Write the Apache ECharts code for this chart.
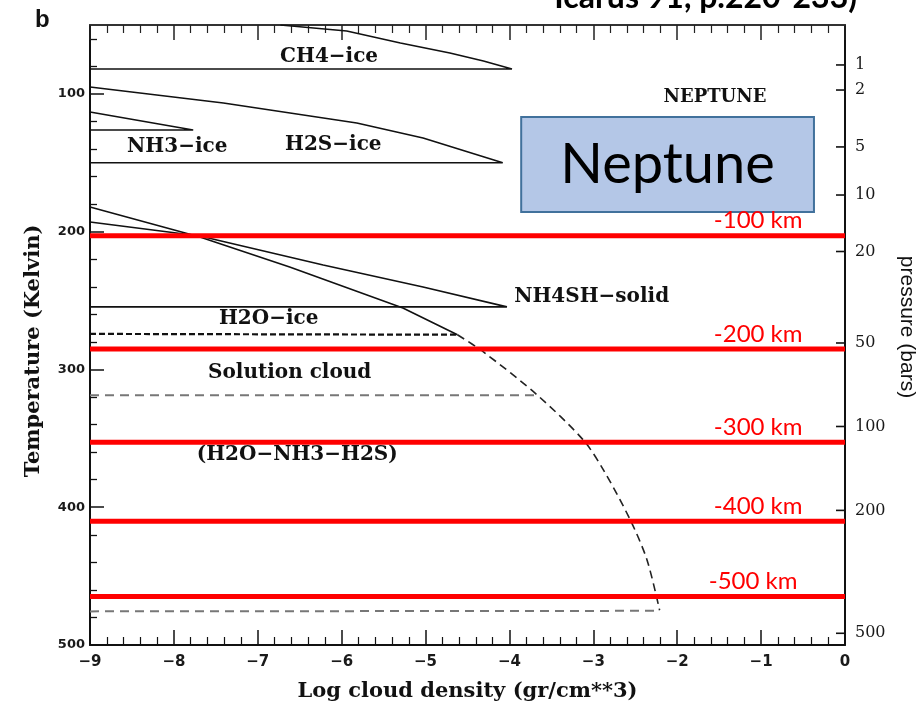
<!DOCTYPE html>
<html>
<head>
<meta charset="utf-8">
<script src="https://cdn.jsdelivr.net/npm/echarts@6/dist/echarts.min.js"></script>
<style>
html,body{margin:0;padding:0;background:#fff;}
#chart{width:918px;height:711px;}
</style>
</head>
<body>
<div id="chart"></div>
<script>
// ---- data (x = log cloud density, y = temperature K) ----
const tempTicks = [100, 200, 300, 400, 500];
const tempMinorTicks = [60, 80, 120, 140, 160, 180, 220, 240, 260, 280, 320, 340, 360, 380, 420, 440, 460, 480];
const pressureLabels = ['1', '2', '5', '10', '20', '50', '100', '200', '500'];
const pressureTempK = [79, 97.2, 138.5, 173.4, 214.4, 280.8, 341.4, 402.3, 491.5];

const ch4Ice = [[-9, 81.9], [-3.97, 81.9], [-4.31, 76.1], [-4.71, 70.3], [-5.30, 63.1], [-5.94, 54.4], [-6.73, 50]];
const h2sIce = [[-9, 150], [-4.08, 150], [-5.03, 132.0], [-5.82, 121.1], [-7.41, 106.6], [-9, 95]];
const nh3Ice = [[-9, 126.2], [-7.77, 126.2], [-9, 113.1]];
const nh4shSolid = [[-9, 254.6], [-4.03, 254.6], [-5.03, 240.1], [-6.22, 224.2], [-7.69, 203.1], [-9, 193.0]];
const h2oIceTop = [[-9, 182.1], [-7.69, 203.9], [-6.62, 225.6], [-5.27, 255.4], [-4.62, 274.8]];
const h2oIceBottom = [[-9, 274.2], [-4.62, 274.8]];
const solutionEdge = [[-4.62, 274.8], [-4.31, 287.3], [-3.67, 318.5], [-3.12, 351.2], [-2.88, 372.9], [-2.56, 409.2], [-2.36, 438.3], [-2.21, 474.8]];
const solutionTop = [[-9, 318.8], [-3.67, 318.8]];
const solutionBottom = [[-9, 475.6], [-2.21, 475.2]];

const cloudLabels = ['CH4−ice', 'NH3−ice', 'H2S−ice', 'NH4SH−solid', 'H2O−ice', 'Solution cloud', '(H2O−NH3−H2S)'];
const cloudLabelX = [-6.15, -7.96, -6.10, -3.02, -6.87, -6.62, -6.53];
const cloudLabelT = [73.2, 138.5, 137.1, 247.4, 263.4, 302.5, 362.0];

const depthLabels = ['-100 km', '-200 km', '-300 km', '-400 km', '-500 km'];
const depthTempK = [202.9, 285.1, 352.9, 410.2, 464.8];
const depthLabelX = [-0.50, -0.50, -0.50, -0.50, -0.56];

const planetName = 'NEPTUNE';
const planetNamePos = [-1.55, 102.2];
const boxText = 'Neptune';
const boxCorners = [[-3.86, 116.8], [-0.37, 185.7]];

// ---- chart ----
const chart = echarts.init(document.getElementById('chart'), null, {renderer: 'canvas'});

const ink = '#111';
function curve(data, opts) {
  return Object.assign({
    type: 'line', data: data, xAxisIndex: 0, yAxisIndex: 0,
    symbol: 'none', silent: true, animation: false,
    lineStyle: {color: ink, width: 1.6}, z: 3
  }, opts || {});
}

const series = [
  curve(ch4Ice),
  curve(h2sIce),
  curve(nh3Ice),
  curve(nh4shSolid),
  curve(h2oIceTop),
  curve(h2oIceBottom, {lineStyle: {color: '#111', width: 2.2, type: [6, 3]}}),
  curve(solutionEdge, {smooth: 0.3, lineStyle: {color: '#222', width: 1.6, type: [8, 5]}}),
  curve(solutionTop, {lineStyle: {color: '#777', width: 2, type: [9, 6]}}),
  curve(solutionBottom, {lineStyle: {color: '#777', width: 2, type: [9, 6]}})
];

// red depth lines
depthTempK.forEach(function (t) {
  series.push({
    type: 'line', data: [[-9, t], [0, t]], symbol: 'none', silent: true, animation: false,
    lineStyle: {color: '#FF0000', width: 5}, z: 5
  });
});

// red depth labels
series.push({
  type: 'scatter', silent: true, animation: false, z: 6,
  symbolSize: 1, itemStyle: {color: 'rgba(0,0,0,0)', opacity: 1},
  data: depthLabels.map(function (n, i) { return {name: n, value: [depthLabelX[i], depthTempK[i]]}; }),
  label: {
    show: true, position: 'left', distance: 0, offset: [0, -15], formatter: '{b}', opacity: 1,
    color: '#FF0000', fontFamily: 'Lato', fontSize: 24
  }
});

// cloud labels
series.push({
  type: 'scatter', silent: true, animation: false, z: 4,
  symbolSize: 1, itemStyle: {color: 'rgba(0,0,0,0)', opacity: 1},
  data: cloudLabels.map(function (n, i) { return {name: n, value: [cloudLabelX[i], cloudLabelT[i]]}; }),
  label: {
    show: true, position: 'inside', formatter: '{b}', opacity: 1,
    color: '#111', fontFamily: 'DejaVu Serif', fontWeight: 'bold', fontSize: 20
  }
});

// NEPTUNE label + box
series.push({
  type: 'scatter', silent: true, animation: false, z: 4,
  symbolSize: 1, itemStyle: {color: 'rgba(0,0,0,0)', opacity: 1},
  data: [{name: planetName, value: planetNamePos}],
  label: {
    show: true, position: 'inside', formatter: '{b}', opacity: 1,
    color: '#111', fontFamily: 'DejaVu Serif', fontWeight: 'bold', fontSize: 18
  },
  markArea: {
    silent: true,
    itemStyle: {color: '#B4C7E7', borderColor: '#41719C', borderWidth: 2, opacity: 1},
    label: {show: true, position: 'inside', color: '#000', fontFamily: 'Lato', fontSize: 56},
    data: [[{name: boxText, coord: boxCorners[0]}, {coord: boxCorners[1]}]]
  }
});

// pressure-axis tick marks (inside, pointing left from the right axis)
series.push({
  type: 'scatter', silent: true, animation: false, z: 7, clip: false,
  symbol: 'rect', symbolSize: [9, 1.6], symbolOffset: [-4.5, 0],
  itemStyle: {color: '#111', opacity: 1},
  data: pressureTempK.map(function (t) { return [0, t]; })
});

const tickLabelStyle = {color: '#1a1a1a', fontFamily: 'DejaVu Sans', fontWeight: 'bold', fontSize: 13};
const nameFont = {color: '#111', fontFamily: 'DejaVu Serif', fontWeight: 'bold', fontSize: 21};

function nearestPressure(v) {
  let best = 0;
  for (let i = 1; i < pressureTempK.length; i++) {
    if (Math.abs(pressureTempK[i] - v) < Math.abs(pressureTempK[best] - v)) best = i;
  }
  return pressureLabels[best];
}

const gridBox = {left: 90, right: 73, top: 25, bottom: 66, containLabel: false, outerBoundsMode: 'none'};

const option = {
  animation: false,
  backgroundColor: '#fff',
  grid: [Object.assign({}, gridBox), Object.assign({}, gridBox)],
  graphic: [
    {type: 'text', silent: true, style: {x: 35, y: 20, text: 'b', fill: '#111',
      font: 'bold 24px "Liberation Sans"', textVerticalAlign: 'middle', verticalAlign: 'middle'}},
    {type: 'text', silent: true, style: {x: 857, y: -2, text: 'Icarus 91, p.220-233)', fill: '#000',
      font: 'bold 32px Lato', textAlign: 'right', align: 'right', textVerticalAlign: 'middle', verticalAlign: 'middle'}}
  ],
  xAxis: [
    {
      type: 'value', gridIndex: 0, min: -9, max: 0, interval: 1, position: 'bottom',
      name: 'Log cloud density (gr/cm**3)', nameLocation: 'middle', nameGap: 36,
      nameTextStyle: nameFont,
      axisLine: {show: true, onZero: false, lineStyle: {color: '#111', width: 2}},
      axisTick: {show: true, inside: true, length: 15, lineStyle: {color: '#111', width: 1.5}},
      minorTick: {show: true, splitNumber: 5, length: 8, lineStyle: {color: '#111', width: 1.2}},
      axisLabel: Object.assign({margin: 10, formatter: function (v) { return String(v).replace('-', '−'); }},
        tickLabelStyle, {fontSize: 15}),
      splitLine: {show: false}, minorSplitLine: {show: false}
    },
    {
      type: 'value', gridIndex: 0, min: -9, max: 0, interval: 1, position: 'top',
      axisLine: {show: true, onZero: false, lineStyle: {color: '#333', width: 2}},
      axisTick: {show: true, inside: true, length: 15, lineStyle: {color: '#222', width: 1.5}},
      minorTick: {show: true, splitNumber: 5, length: 8, lineStyle: {color: '#222', width: 1.2}},
      axisLabel: {show: false},
      splitLine: {show: false}, minorSplitLine: {show: false}
    },
    {
      type: 'value', gridIndex: 1, min: -9, max: 0, show: false,
      axisLine: {onZero: false}
    }
  ],
  yAxis: [
    {
      type: 'value', gridIndex: 0, min: 50, max: 500, inverse: true, position: 'left',
      name: 'Temperature (Kelvin)', nameLocation: 'middle', nameGap: 46, nameRotate: 90,
      nameTextStyle: Object.assign({padding: [0, 32, 0, 0]}, nameFont),
      axisLine: {show: true, onZero: false, lineStyle: {color: '#111', width: 2}},
      axisTick: {show: true, inside: true, length: 14, customValues: tempTicks, lineStyle: {color: '#111', width: 1.5}},
      axisLabel: Object.assign({margin: 5, customValues: tempTicks}, tickLabelStyle),
      splitLine: {show: false}
    },
    {
      type: 'value', gridIndex: 0, min: 50, max: 500, inverse: true, position: 'right',
      name: 'pressure (bars)', nameLocation: 'middle', nameGap: 45, nameRotate: -90,
      nameTextStyle: {color: '#111', fontFamily: 'Liberation Sans', fontSize: 21, padding: [0, 16, 0, 0]},
      axisLine: {show: true, onZero: false, lineStyle: {color: '#111', width: 2}},
      axisTick: {show: false},
      axisLabel: {margin: 10, customValues: pressureTempK, formatter: function (v) { return nearestPressure(v); },
        color: '#1a1a1a', fontFamily: 'DejaVu Serif', fontSize: 16},
      splitLine: {show: false}
    },
    {
      type: 'value', gridIndex: 1, min: 50, max: 500, inverse: true, position: 'left',
      axisLine: {show: false, onZero: false},
      axisTick: {show: true, inside: true, length: 7, customValues: tempMinorTicks, lineStyle: {color: '#111', width: 1.3}},
      axisLabel: {show: false},
      splitLine: {show: false}
    }
  ],
  series: series
};

chart.setOption(option);
</script>
</body>
</html>
